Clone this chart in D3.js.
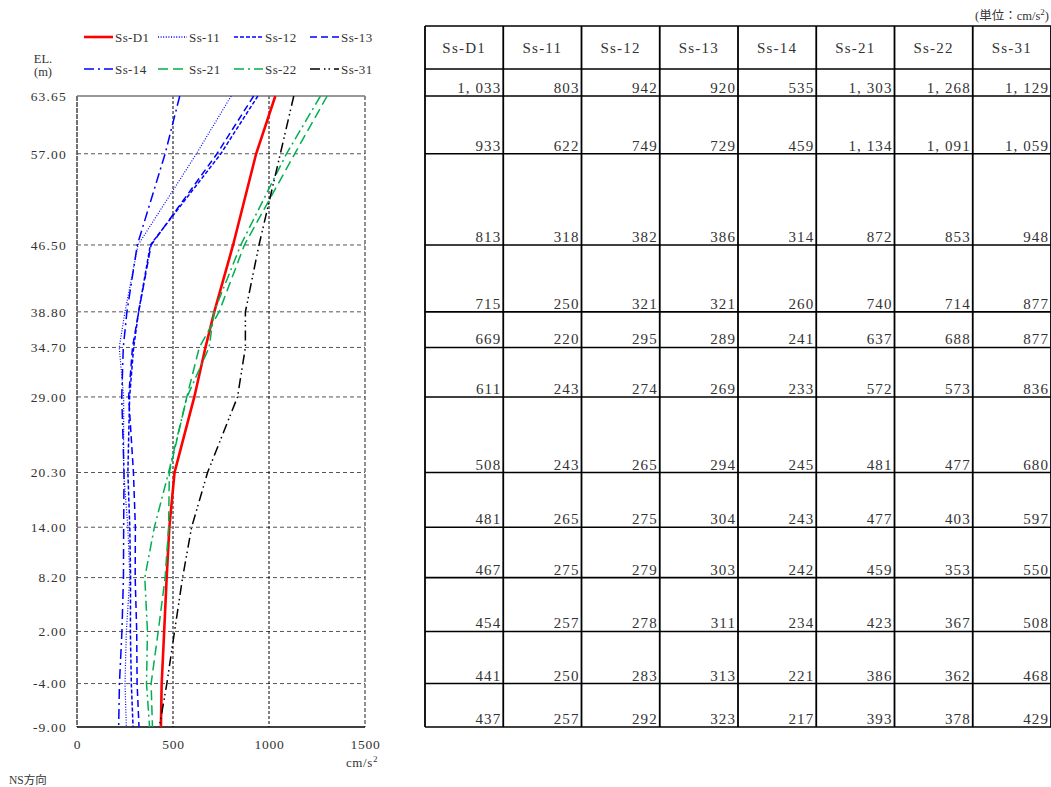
<!DOCTYPE html>
<html><head><meta charset="utf-8">
<script src="https://cdn.jsdelivr.net/npm/d3@7/dist/d3.min.js"></script>
<style>
body{margin:0;background:#fff;}
svg text{font-family:"Liberation Serif","Noto Sans CJK JP",serif;fill:#333;}
</style></head>
<body><svg id="c" width="1051" height="787"></svg>
<script>
const series = ["Ss-D1","Ss-11","Ss-12","Ss-13","Ss-14","Ss-21","Ss-22","Ss-31"];
const elevations = [63.65,57.00,46.50,38.80,34.70,29.00,20.30,14.00,8.20,2.00,-4.00,-9.00];
const ssD1 = [1033,933,813,715,669,611,508,481,467,454,441,437];
const ss11 = [803,622,318,250,220,243,243,265,275,257,250,257];
const ss12 = [942,749,382,321,295,274,265,275,279,278,283,292];
const ss13 = [920,729,386,321,289,269,294,304,303,311,313,323];
const ss14 = [535,459,314,260,241,233,245,243,242,234,221,217];
const ss21 = [1303,1134,872,740,637,572,481,477,459,423,386,393];
const ss22 = [1268,1091,853,714,688,573,477,403,353,367,362,378];
const ss31 = [1129,1059,948,877,877,836,680,597,550,508,468,429];
const xTicks = [0,500,1000,1500];
const values = [ssD1,ss11,ss12,ss13,ss14,ss21,ss22,ss31];

const styles = [
  {c:"#ff0000",w:2.6,d:null},
  {c:"#0000ff",w:1.2,d:"1,1.6"},
  {c:"#0000ff",w:1.5,d:"4,2"},
  {c:"#0000ff",w:1.5,d:"7,4"},
  {c:"#0000ff",w:1.5,d:"10,4,2,4"},
  {c:"#00b050",w:1.5,d:"10,5"},
  {c:"#00b050",w:1.5,d:"10,4,2,4"},
  {c:"#000000",w:1.5,d:"10,4,1.5,3,1.5,4"}
];

const svg = d3.select("#c");
const x = d3.scaleLinear().domain([0,1500]).range([77,365]);
const y = d3.scaleLinear().domain([-9,63.65]).range([727,96]);

// gridlines horizontal
svg.append("g").selectAll("line").data(elevations.filter(e=>e!==63.65 && e!==-9)).join("line")
  .attr("x1",x(0)).attr("x2",x(1500)).attr("y1",d=>y(d)).attr("y2",d=>y(d))
  .attr("stroke","#555").attr("stroke-width",1).attr("stroke-dasharray","4,3");
// vertical gridlines
svg.append("g").selectAll("line").data([500,1000]).join("line")
  .attr("x1",d=>x(d)).attr("x2",d=>x(d)).attr("y1",y(63.65)).attr("y2",y(-9))
  .attr("stroke","#000").attr("stroke-width",1).attr("stroke-dasharray","3,2");
// frame
svg.append("line").attr("x1",x(0)).attr("x2",x(0)).attr("y1",y(63.65)).attr("y2",y(-9))
  .attr("stroke","#444").attr("stroke-width",1.5).attr("stroke-dasharray","5,1");
svg.append("line").attr("x1",x(1500)).attr("x2",x(1500)).attr("y1",y(63.65)).attr("y2",y(-9))
  .attr("stroke","#444").attr("stroke-width",1.2).attr("stroke-dasharray","4,2");
svg.append("line").attr("x1",x(0)).attr("x2",x(1500)).attr("y1",y(63.65)).attr("y2",y(63.65))
  .attr("stroke","#777").attr("stroke-width",1.5);
svg.append("line").attr("x1",x(0)).attr("x2",x(1500)).attr("y1",y(-9)).attr("y2",y(-9))
  .attr("stroke","#000").attr("stroke-width",1.5);

// axes
const yAxis = svg.append("g").attr("transform",`translate(${x(0)-7},0)`)
  .call(d3.axisLeft(y).tickValues(elevations).tickFormat(d=>d3.format(".2f")(d).replace("−","-")).tickSize(0));
yAxis.select(".domain").remove();
yAxis.selectAll("text").attr("font-size",13.5).attr("fill","#333").attr("letter-spacing",1.2)
  .attr("font-family","Liberation Serif, serif");
const xAxis = svg.append("g").attr("transform",`translate(0,${y(-9)+9})`)
  .call(d3.axisBottom(x).tickValues(xTicks).tickFormat(d3.format("d")).tickSize(0));
xAxis.select(".domain").remove();
xAxis.selectAll("text").attr("font-size",13.5).attr("fill","#333").attr("letter-spacing",0.8)
  .attr("font-family","Liberation Serif, serif");

// lines
const line = d3.line().x(d=>x(d[0])).y(d=>y(d[1]));
values.forEach((vals,i)=>{
  const pts = vals.map((v,j)=>[v,elevations[j]]);
  svg.append("path").datum(pts).attr("d",line).attr("fill","none")
    .attr("stroke",styles[i].c).attr("stroke-width",styles[i].w)
    .attr("stroke-dasharray",styles[i].d);
});

// legend
const legX = [84,158,234,310];
const legY = [37,69];
series.forEach((s,i)=>{
  const lx = legX[i%4], ly = legY[Math.floor(i/4)];
  svg.append("line").attr("x1",lx).attr("x2",lx+29).attr("y1",ly).attr("y2",ly)
    .attr("stroke",styles[i].c).attr("stroke-width",styles[i].w===2.6?2.6:1.6)
    .attr("stroke-dasharray",styles[i].d);
  svg.append("text").attr("x",lx+31).attr("y",ly+4.5).attr("font-size",13).attr("letter-spacing",0.4).text(s);
});
svg.append("text").attr("x",43).attr("y",63).attr("text-anchor","middle").attr("font-size",12.5).text("EL.");
svg.append("text").attr("x",43).attr("y",76).attr("text-anchor","middle").attr("font-size",12.5).text("(m)");
// x unit
const u = svg.append("text").attr("x",378).attr("y",767).attr("text-anchor","end").attr("font-size",13).attr("letter-spacing",0.6);
u.append("tspan").text("cm/s");
u.append("tspan").attr("dy",-5).attr("font-size",9).text("2");
svg.append("text").attr("x",9).attr("y",784).attr("font-size",11.5).text("NS方向");

// table
const tx = d3.scaleBand().domain(series).range([425,1051]);
const tTop = 26, hBot = 69;
const rowBounds = [hBot].concat(elevations.map(e=>y(e)));
const tbl = svg.append("g");
tbl.selectAll("line.h").data([tTop].concat(rowBounds)).join("line")
  .attr("x1",425).attr("x2",1051).attr("y1",d=>d).attr("y2",d=>d)
  .attr("stroke","#000").attr("stroke-width",1.6);
tbl.selectAll("line.v").data(series.map(s=>tx(s)).concat([1051])).join("line")
  .attr("x1",d=>d).attr("x2",d=>d).attr("y1",tTop).attr("y2",y(-9))
  .attr("stroke","#000").attr("stroke-width",1.8);
// header
series.forEach(s=>{
  svg.append("text").attr("x",tx(s)+tx.bandwidth()/2).attr("y",53).attr("text-anchor","middle")
    .attr("font-size",15).attr("letter-spacing",1.2).text(s);
});
const fmt = d3.format(",");
values.forEach((vals,i)=>{
  vals.forEach((v,j)=>{
    svg.append("text").attr("x",tx(series[i])+tx.bandwidth()-2).attr("y",y(elevations[j])-3)
      .attr("text-anchor","end").attr("font-size",15).attr("letter-spacing",1.1).text(fmt(v).replace(",",", "));
  });
});
const un = svg.append("text").attr("x",1049).attr("y",20).attr("text-anchor","end").attr("font-size",12.5);
un.append("tspan").text("(単位：cm/s");
un.append("tspan").attr("dy",-5).attr("font-size",9).text("2");
un.append("tspan").attr("dy",5).text(")");
</script></body></html>
